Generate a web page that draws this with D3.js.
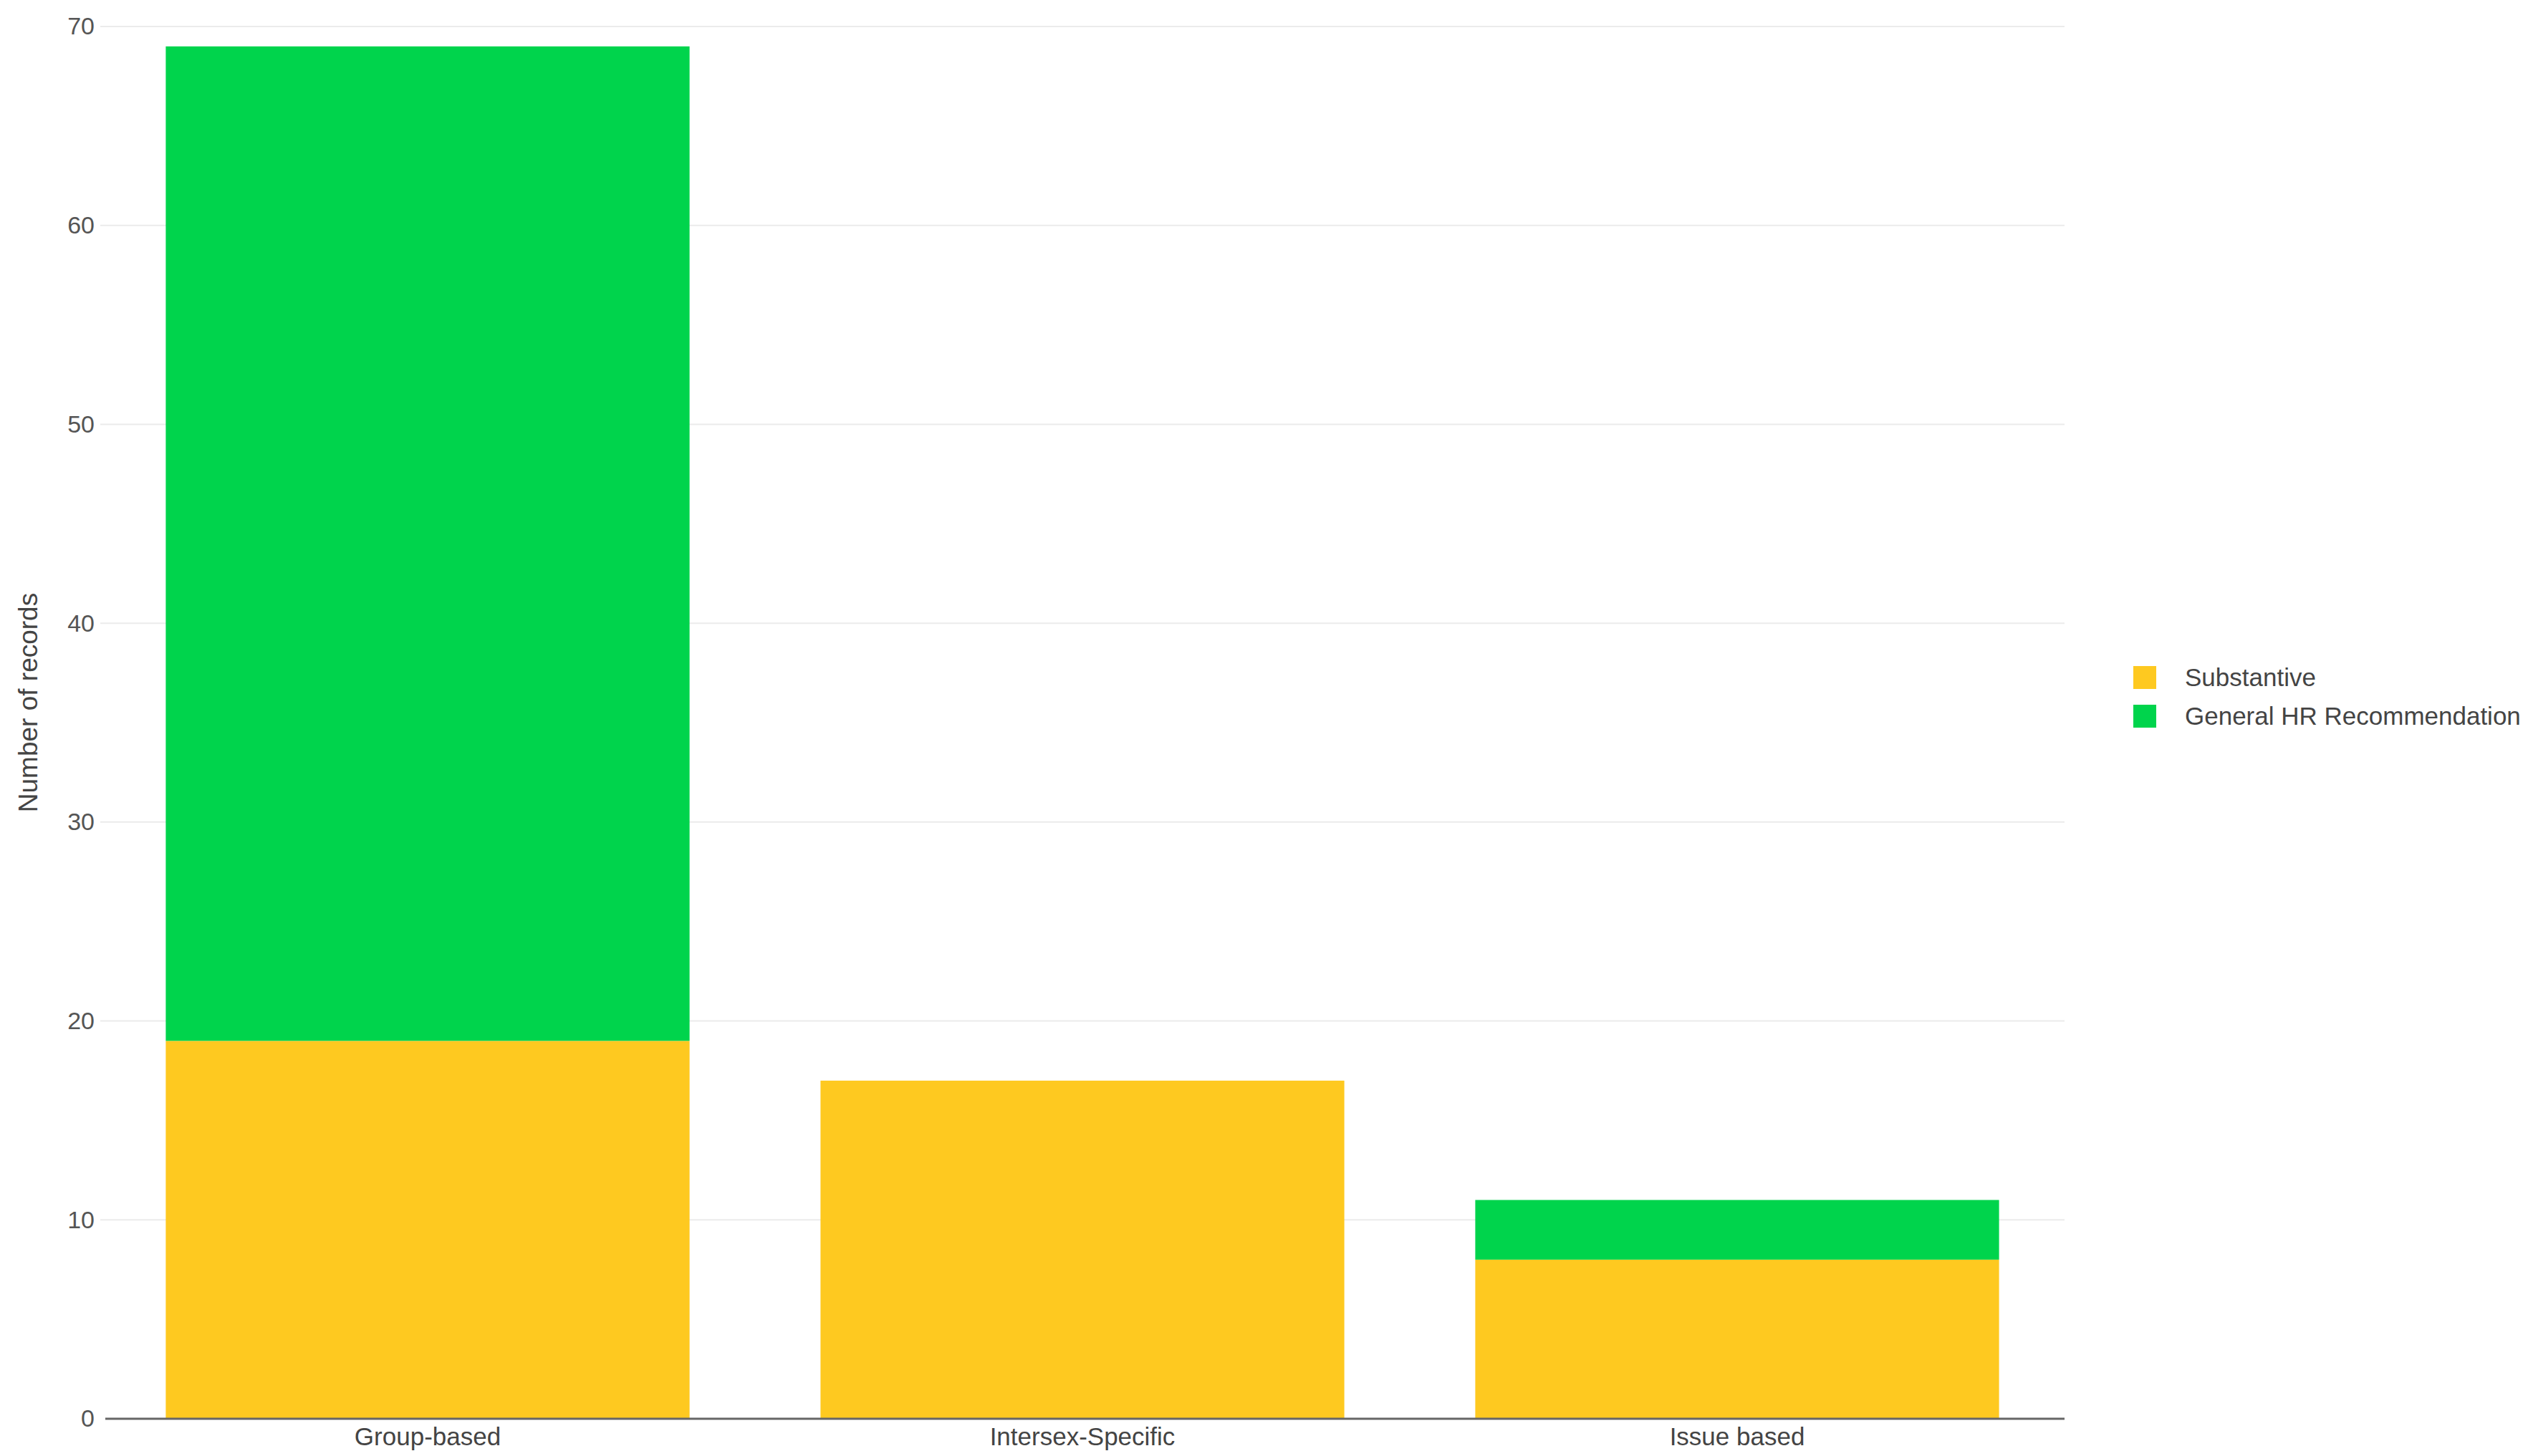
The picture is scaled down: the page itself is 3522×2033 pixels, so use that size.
<!DOCTYPE html>
<html>
<head>
<meta charset="utf-8">
<script src="https://cdn.jsdelivr.net/npm/d3@7"></script>
<style>
  body { margin: 0; background: #fff; }
  text { font-family: "Liberation Sans", Arial, sans-serif; }
</style>
</head>
<body>
<svg id="chart"></svg>
<script>
// Data
const categories = ["Group-based", "Intersex-Specific", "Issue based"];
const seriesNames = ["Substantive", "General HR Recommendation"];
const substantive = [19, 17, 8];
const generalHR = [50, 0, 3];
const yTicks = [0, 10, 20, 30, 40, 50, 60, 70];

const colors = { "Substantive": "#fec920", "General HR Recommendation": "#00d44c" };

const width = 3522, height = 2033;
const plot = { left: 140, right: 2882, top: 37, bottom: 1981 };

const svg = d3.select("#chart")
    .attr("width", width)
    .attr("height", height);

// build rows for stacking
const rows = categories.map((c, i) => ({
    category: c,
    "Substantive": substantive[i],
    "General HR Recommendation": generalHR[i]
}));
const stacked = d3.stack().keys(seriesNames)(rows);

const x = d3.scaleBand()
    .domain(categories)
    .range([plot.left, plot.right])
    .paddingInner(0.2)
    .paddingOuter(0.1);

const y = d3.scaleLinear()
    .domain([0, 70])
    .range([plot.bottom, plot.top]);

// gridlines
svg.append("g")
    .selectAll("line")
    .data(yTicks.filter(t => t > 0))
    .enter().append("line")
    .attr("x1", plot.left)
    .attr("x2", plot.right)
    .attr("y1", d => y(d))
    .attr("y2", d => y(d))
    .style("stroke", "#ebebeb")
    .style("stroke-width", 2);

// y tick labels
const yAxis = svg.append("g")
    .attr("transform", `translate(${plot.left},0)`)
    .call(d3.axisLeft(y).tickValues(yTicks).tickSize(0).tickPadding(8));
yAxis.select(".domain").remove();
yAxis.selectAll("text")
    .style("font-size", "34px")
    .style("fill", "#555");

// bars
svg.append("g")
    .selectAll("g")
    .data(stacked)
    .enter().append("g")
    .style("fill", d => colors[d.key])
    .selectAll("rect")
    .data(d => d)
    .enter().append("rect")
    .attr("x", d => x(d.data.category))
    .attr("width", x.bandwidth())
    .attr("y", d => y(d[1]))
    .attr("height", d => y(d[0]) - y(d[1]));

// baseline
svg.append("line")
    .attr("x1", plot.left + 7)
    .attr("x2", plot.right)
    .attr("y1", y(0))
    .attr("y2", y(0))
    .style("stroke", "#666")
    .style("stroke-width", 3);

// x labels
const xAxis = svg.append("g")
    .attr("transform", `translate(0,${plot.bottom})`)
    .call(d3.axisBottom(x).tickSize(0).tickPadding(12));
xAxis.select(".domain").remove();
xAxis.selectAll("text")
    .style("font-size", "35px")
    .style("fill", "#444");

// y axis title
svg.append("text")
    .attr("transform", "translate(52,981) rotate(-90)")
    .attr("text-anchor", "middle")
    .style("font-size", "37px")
    .style("fill", "#444")
    .text("Number of records");

// legend
const legend = svg.append("g")
    .selectAll("g")
    .data(seriesNames)
    .enter().append("g")
    .attr("transform", (d, i) => `translate(2978,${930 + i * 54})`);

legend.append("rect")
    .attr("width", 32)
    .attr("height", 32)
    .style("fill", d => colors[d]);

legend.append("text")
    .attr("x", 72)
    .attr("y", 16)
    .attr("dy", "0.35em")
    .style("font-size", "35px")
    .style("fill", "#444")
    .text(d => d);
</script>
</body>
</html>
